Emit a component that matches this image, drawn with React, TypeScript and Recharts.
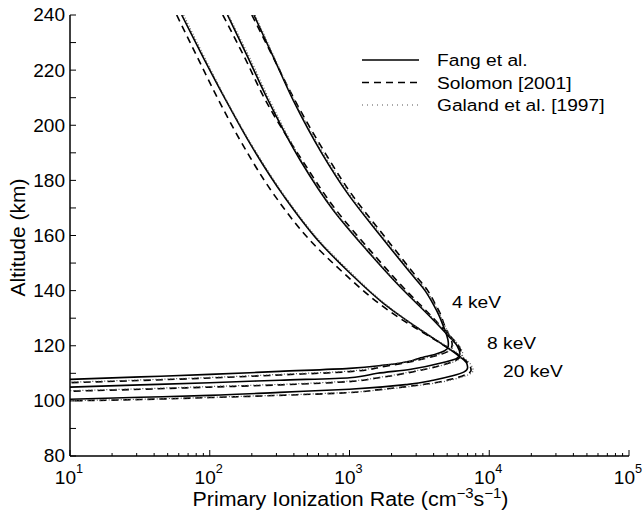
import React from 'react';
import { LineChart, Line, XAxis, YAxis, Legend, ReferenceDot } from 'recharts';

const FONT = '"Liberation Sans", Arial, Helvetica, sans-serif';

// profiles as [rate (cm^-3 s^-1), altitude (km)], walked from the top of the column down
const fang4: [number, number][] = [
  [207, 240], [284, 225], [396, 209], [631, 190], [977, 175], [1660, 160], [2880, 145],
  [3470, 140], [3980, 135], [4370, 131], [4620, 128], [4950, 124], [5100, 121], [5080, 119.5],
  [4800, 118.2], [4170, 117], [3160, 115.5], [2750, 114.5], [1780, 113], [1000, 111.8],
  [316, 110.7], [100, 109.6], [32, 108.7], [10, 107.8],
];
const fang8: [number, number][] = [
  [134, 240], [186, 225], [262, 209], [443, 187.4], [766, 169.2], [1330, 154.7], [2300, 141.4],
  [3870, 130], [5010, 124], [5890, 120], [6170, 117], [5890, 115.5], [4680, 113.9],
  [2750, 111.5], [1580, 110], [1000, 108.4], [316, 107.5], [100, 106.6], [32, 105.8], [10, 105],
];
const fang20: [number, number][] = [
  [63, 240], [89, 225], [130, 209.2], [194, 193.4], [341, 174.1], [591, 158.4], [1010, 146.3],
  [1750, 135.4], [2430, 130], [3390, 125], [4790, 120], [6170, 116], [6920, 113.5], [7000, 112],
  [6610, 110.5], [5370, 109], [3980, 107.5], [2630, 106], [1000, 104.2], [316, 103.1],
  [100, 102], [32, 101.3], [10, 100.6],
];
const solomon4: [number, number][] = [
  [200, 240], [282, 225], [407, 209], [668, 190], [1035, 175], [1760, 160], [3020, 145],
  [3630, 140], [4120, 135], [4520, 131], [4730, 128], [5130, 124], [5430, 120.5], [5250, 118.5],
  [4570, 117], [3550, 115.5], [2630, 114], [1780, 112.5], [1000, 110.6], [316, 109.4],
  [100, 108.3], [32, 107.4], [10, 106.6],
];
const solomon8: [number, number][] = [
  [124, 240], [176, 225], [251, 209], [457, 187.4], [803, 169.2], [1400, 154.7], [2400, 141.4],
  [3980, 130], [5130, 124], [6030, 120], [6310, 117], [5890, 115], [4470, 112.8],
  [2820, 110.5], [1580, 108.3], [1000, 107], [316, 105.8], [100, 105], [32, 104.2], [10, 103.5],
];
const solomon20: [number, number][] = [
  [58, 240], [81, 225], [116, 209], [170, 193.4], [295, 174.1], [519, 158.4], [912, 146.3],
  [1620, 135.4], [2290, 130], [3310, 125], [4790, 120], [6310, 116], [7240, 113], [7410, 111],
  [6760, 109.5], [5500, 108], [3980, 106.5], [2400, 105], [1580, 104], [1000, 103],
  [316, 102], [100, 101.2], [32, 100.5], [10, 100],
];
const galand4: [number, number][] = [
  [211, 240], [288, 225], [403, 209], [646, 190], [1000, 175], [1700, 160], [2950, 145],
  [3550, 140], [4070, 135], [4470, 131], [4730, 128], [5190, 124], [5500, 121], [5430, 119],
  [4790, 117.5], [3800, 116], [2820, 114.5], [1820, 113], [1000, 110.8], [316, 109.6],
  [100, 108.5], [32, 107.6], [10, 106.8],
];
const galand8: [number, number][] = [
  [136, 240], [191, 225], [269, 209], [452, 187.4], [776, 169.2], [1350, 154.7], [2340, 141.4],
  [3940, 130], [5130, 124], [6100, 120], [6460, 117], [6030, 115], [4680, 113],
  [2880, 110.8], [1660, 108.6], [1000, 107.2], [316, 106], [100, 105.2], [32, 104.4], [10, 103.7],
];
const galand20: [number, number][] = [
  [65, 240], [91, 225], [132, 209], [197, 193.4], [347, 174.1], [603, 158.4], [1035, 146.3],
  [1780, 135.4], [2450, 130], [3430, 125], [4900, 120], [6460, 116], [7410, 113], [7670, 111],
  [7080, 109.5], [5750, 108], [4170, 106.5], [2510, 105], [1660, 104], [1000, 103.1],
  [316, 102.1], [100, 101.3], [32, 100.6], [10, 100.1],
];

const models = ['Fang et al.', 'Solomon [2001]', 'Galand et al. [1997]'];
const energyLabels = ['4 keV', '8 keV', '20 keV'];
const energyLabelRate = [5410, 9640, 12540];
const energyLabelAlt = [136, 121, 110.8];

const xMajor = [10, 100, 1000, 10000, 100000];
const xTicks: number[] = [];
for (let d = 10; d < 100000; d *= 10) {
  for (let k = 1; k < 10; k++) xTicks.push(d * k);
}
xTicks.push(100000);
const yTicks = [80, 90, 100, 110, 120, 130, 140, 150, 160, 170, 180, 190, 200, 210, 220, 230, 240];

const toRows = (pts: [number, number][]) => pts.map(([rate, alt]) => ({ rate, alt }));

// line styles per model: solid / dashed / dotted
const styles = [
  { stroke: '#000', strokeWidth: 1.6, strokeDasharray: undefined as string | undefined },
  { stroke: '#000', strokeWidth: 1.6, strokeDasharray: '7 5' },
  { stroke: '#555', strokeWidth: 1.2, strokeDasharray: '1 2' },
];

const series = [
  { name: 'fang4', data: fang4, model: 0 },
  { name: 'fang8', data: fang8, model: 0 },
  { name: 'fang20', data: fang20, model: 0 },
  { name: 'solomon4', data: solomon4, model: 1 },
  { name: 'solomon8', data: solomon8, model: 1 },
  { name: 'solomon20', data: solomon20, model: 1 },
  { name: 'galand4', data: galand4, model: 2 },
  { name: 'galand8', data: galand8, model: 2 },
  { name: 'galand20', data: galand20, model: 2 },
];

// the figure's lettering is a little wide, so text is stretched horizontally
const SText = ({ x, y, sx = 1, rotate = 0, children, ...rest }: any) => (
  <text
    transform={`translate(${x} ${y}) rotate(${rotate}) scale(${sx} 1)`}
    fontFamily={FONT}
    fill="#000"
    {...rest}
  >
    {children}
  </text>
);

const BottomTick = ({ x, y, payload }: any) => {
  const v = payload.value;
  const major = xMajor.includes(v);
  return (
    <g>
      <line x1={x} x2={x} y1={y} y2={y - (major ? 6 : 3)} stroke="#000" strokeWidth={1} />
      {major && (
        <SText x={x - 1} y={y + 28} sx={1.06} textAnchor="middle" fontSize={18}>
          10
          <tspan dy={-11} fontSize={12}>{Math.round(Math.log10(v))}</tspan>
        </SText>
      )}
    </g>
  );
};

const TopTick = ({ x, y, payload }: any) => {
  const major = xMajor.includes(payload.value);
  return <line x1={x} x2={x} y1={y} y2={y + (major ? 6 : 3)} stroke="#000" strokeWidth={1} />;
};

const LeftTick = ({ x, y, payload }: any) => (
  <g>
    <line x1={x} x2={x + 6} y1={y} y2={y} stroke="#000" strokeWidth={1} />
    {payload.value % 20 === 0 && (
      <SText x={x - 5} y={y} sx={1.06} dy="0.36em" textAnchor="end" fontSize={18}>
        {payload.value}
      </SText>
    )}
  </g>
);

const RightTick = ({ x, y }: any) => (
  <line x1={x} x2={x - 6} y1={y} y2={y} stroke="#000" strokeWidth={1} />
);

const XTitle = ({ viewBox }: any) => (
  <SText
    x={viewBox.x + viewBox.width / 2 + 1}
    y={viewBox.y + 50}
    sx={1.07}
    textAnchor="middle"
    fontSize={20}
  >
    Primary Ionization Rate (cm
    <tspan dy={-8} fontSize={14}>−3</tspan>
    <tspan dy={8}>s</tspan>
    <tspan dy={-8} fontSize={14}>−1</tspan>
    <tspan dy={8}>)</tspan>
  </SText>
);

const YTitle = ({ viewBox }: any) => (
  <SText
    x={viewBox.x - 5}
    y={viewBox.y + viewBox.height / 2 + 2}
    rotate={-90}
    sx={1.05}
    textAnchor="middle"
    fontSize={20}
  >
    Altitude (km)
  </SText>
);

const EnergyLabel = ({ viewBox, text }: any) => (
  <SText x={viewBox.x} y={viewBox.y} sx={1.13} dy="0.36em" fontSize={17}>
    {text}
  </SText>
);

const ModelLegend = () => (
  <svg width={280} height={75} style={{ display: 'block' }}>
    {models.map((m, i) => {
      const y = 15 + i * 22.5;
      const s = styles[i];
      return (
        <g key={m}>
          <line
            x1={7}
            x2={64}
            y1={y}
            y2={y}
            stroke={s.stroke}
            strokeWidth={s.strokeWidth}
            strokeDasharray={i === 2 ? '1 4' : s.strokeDasharray}
          />
          <SText x={82} y={y} sx={1.13} dy="0.36em" fontSize={17}>
            {m}
          </SText>
        </g>
      );
    })}
  </svg>
);

export default function App() {
  return (
    <div style={{ position: 'absolute', left: 0, top: 0, background: '#fff', fontFamily: FONT }}>
      <LineChart width={644} height={518} margin={{ top: 15, right: 15, bottom: 22, left: 30 }}>
        <XAxis
          dataKey="rate"
          type="number"
          scale="log"
          domain={[10, 100000]}
          allowDataOverflow
          ticks={xTicks}
          interval={0}
          tick={<BottomTick />}
          tickLine={false}
          tickSize={0}
          tickMargin={0}
          height={40}
          axisLine={{ stroke: '#000', strokeWidth: 1.5 }}
          label={<XTitle />}
        />
        <XAxis
          xAxisId="top"
          orientation="top"
          type="number"
          scale="log"
          domain={[10, 100000]}
          allowDataOverflow
          ticks={xTicks}
          interval={0}
          tick={<TopTick />}
          tickLine={false}
          tickSize={0}
          tickMargin={0}
          height={0}
          axisLine={{ stroke: '#000', strokeWidth: 1.5 }}
        />
        <YAxis
          type="number"
          domain={[80, 240]}
          allowDataOverflow
          ticks={yTicks}
          interval={0}
          tick={<LeftTick />}
          tickLine={false}
          tickSize={0}
          tickMargin={0}
          width={40}
          axisLine={{ stroke: '#000', strokeWidth: 1.5 }}
          label={<YTitle />}
        />
        <YAxis
          yAxisId="right"
          orientation="right"
          type="number"
          domain={[80, 240]}
          allowDataOverflow
          ticks={yTicks}
          interval={0}
          tick={<RightTick />}
          tickLine={false}
          tickSize={0}
          tickMargin={0}
          width={0}
          axisLine={{ stroke: '#000', strokeWidth: 1.5 }}
        />
        <Legend
          layout="vertical"
          align="center"
          verticalAlign="middle"
          content={<ModelLegend />}
          wrapperStyle={{ left: 355, top: 45, width: 280, height: 75 }}
        />
        {series.map((s) => (
          <Line
            key={s.name}
            data={toRows(s.data)}
            dataKey="alt"
            type="monotoneY"
            stroke={styles[s.model].stroke}
            strokeWidth={styles[s.model].strokeWidth}
            strokeDasharray={styles[s.model].strokeDasharray}
            dot={false}
            activeDot={false}
            legendType="none"
            isAnimationActive={false}
          />
        ))}
        {energyLabels.map((t, i) => (
          <ReferenceDot
            key={t}
            x={energyLabelRate[i]}
            y={energyLabelAlt[i]}
            r={0}
            fill="none"
            stroke="none"
            ifOverflow="visible"
            label={<EnergyLabel text={t} />}
          />
        ))}
      </LineChart>
    </div>
  );
}
